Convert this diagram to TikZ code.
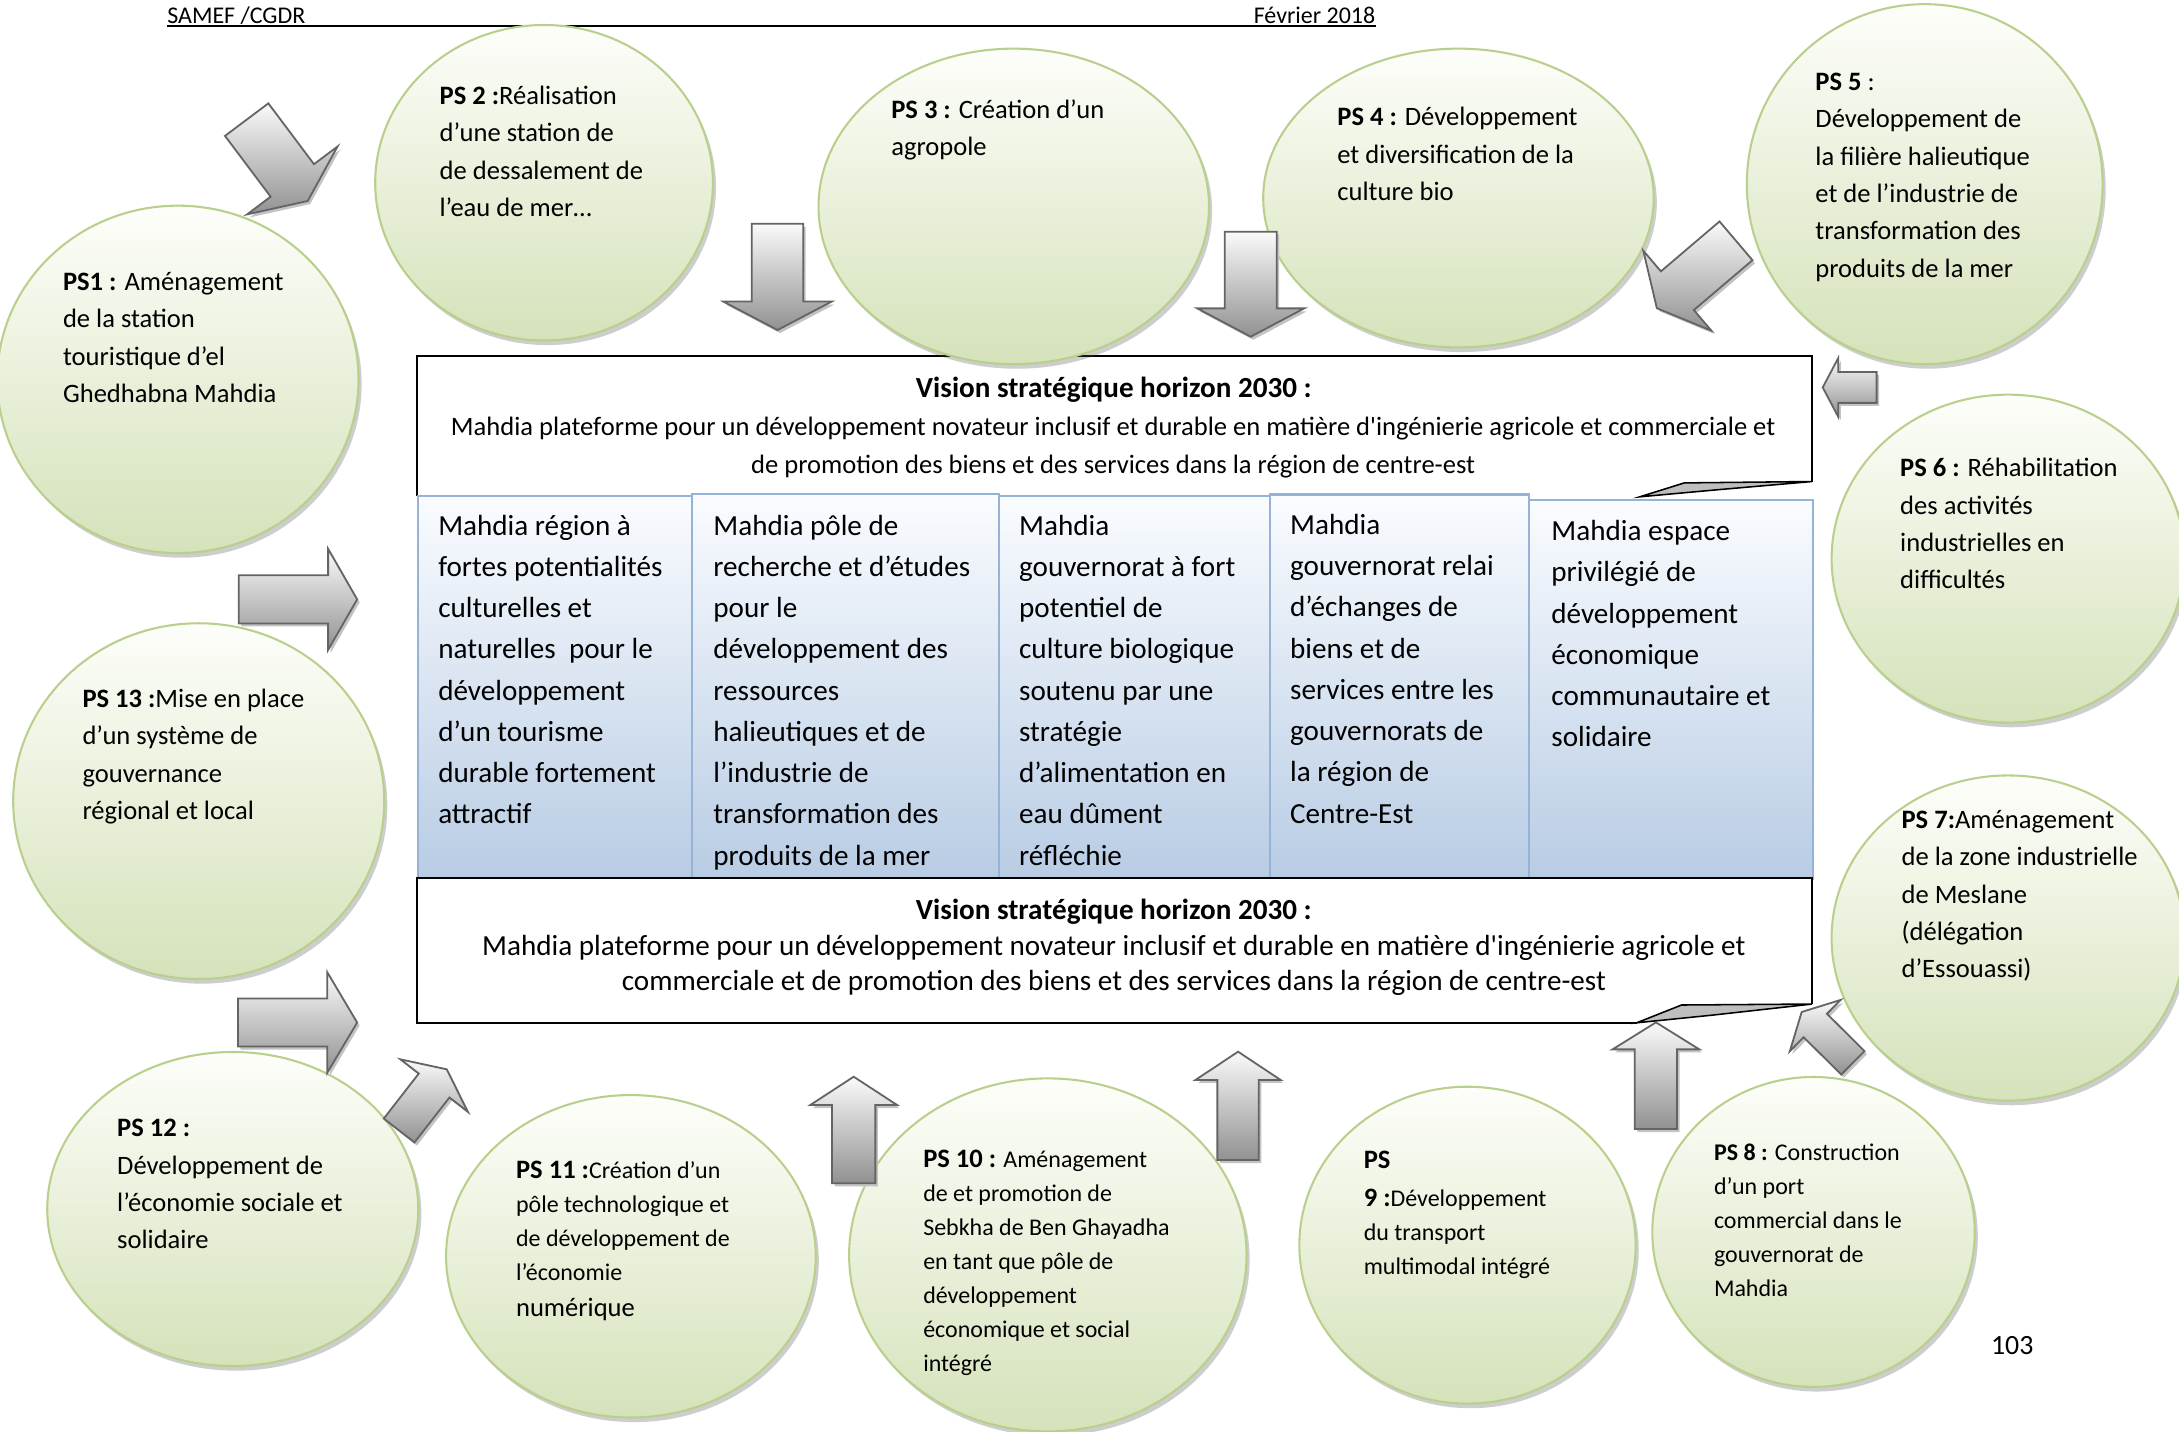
\documentclass[tikz,border=0pt]{standalone}
\usepackage{fontspec}
\setmainfont{Carlito}
\usetikzlibrary{shapes.geometric,shadows}
\definecolor{ellline}{RGB}{185,207,140}
\definecolor{elltop}{RGB}{253,254,250}
\definecolor{ellbot}{RGB}{213,226,186}
\definecolor{coltop}{RGB}{250,252,255}
\definecolor{colbot}{RGB}{184,204,228}
\definecolor{colline}{RGB}{149,179,215}
\definecolor{arrline}{RGB}{100,100,100}
\definecolor{arrtop}{RGB}{250,250,250}
\definecolor{arrbot}{RGB}{145,145,145}
\definecolor{arrshad}{RGB}{195,195,195}
\definecolor{tailgray}{RGB}{190,190,190}
\newcommand\U{0.18941mm}
\newcommand\tl[1]{\begin{tabular}[t]{@{}l@{}}#1\end{tabular}}
\newcommand\tc[1]{\begin{tabular}[t]{@{}c@{}}#1\end{tabular}}
\tikzset{
  psell/.style={ellipse, draw=ellline, line width=0.8pt, top color=elltop, bottom color=ellbot, inner sep=0pt,
    drop shadow={shadow xshift=1.2pt, shadow yshift=-1.8pt, opacity=0.28, fill=black!70}},
  ptext/.style={anchor=base west, inner sep=0pt, font=\fontsize{10.3}{14.5}\selectfont},
  psmall/.style={anchor=base west, inner sep=0pt, font=\fontsize{9.3}{13.2}\selectfont},
  coltext/.style={anchor=base west, inner sep=0pt, font=\fontsize{11.3}{16}\selectfont},
  colbox/.style={rectangle, anchor=north west, draw=colline, line width=0.8pt, top color=coltop, bottom color=colbot, inner sep=0pt},
  arrbody/.style={draw=arrline, line width=0.7pt, line join=miter, top color=arrtop, bottom color=arrbot},
  boxline/.style={draw=black, line width=0.8pt},
  visiontitle/.style={anchor=base, inner sep=0pt, font=\bfseries\fontsize{11.3}{14}\selectfont},
}
\newcommand\psell[5]{\node[psell, minimum width={2*#4*\U}, minimum height={2*#5*\U}] (#1) at (#2,#3) {};}
\newcommand\colbx[5]{\node[colbox, minimum width={(#4-#2)*\U}, minimum height={(#5-#3)*\U}] (#1) at (#2,#3) {};}
\newcommand\barrow[8]{%
  \pgfmathsetmacro\cA{cos(#4)}%
  \pgfmathsetmacro\sA{sin(#4)}%
  \foreach \n/\a/\b in {1/0/-#6,2/#5/-#6,3/#5/-#7,4/#5+#8/0,5/#5/#7,6/#5/#6,7/0/#6}{%
    \coordinate (#1-\n) at ({#2+(\a)*\cA-(\b)*\sA},{#3+(\a)*\sA+(\b)*\cA});%
  }%
  \begin{scope}[transform canvas={shift={(1.8,2.2)}}]
    \fill[arrshad] (#1-1)--(#1-2)--(#1-3)--(#1-4)--(#1-5)--(#1-6)--(#1-7)--cycle;
  \end{scope}
  \path[arrbody] (#1-1)--(#1-2)--(#1-3)--(#1-4)--(#1-5)--(#1-6)--(#1-7)--cycle;
}
\begin{document}
\begin{tikzpicture}[x=0.18941mm, y=-0.18941mm]
\useasboundingbox (0,0) rectangle (1568,1030);
\fill[white] (0,0) rectangle (1568,1030);
\clip (0,0) rectangle (1568,1030);

% header
\node[anchor=base west, inner sep=0pt, font=\fontsize{9.3}{11}\selectfont] (hl) at (120,17) {SAMEF /CGDR};
\node[anchor=base east, inner sep=0pt, font=\fontsize{9.3}{11}\selectfont] (hr) at (990,17) {Février 2018};
\draw[line width=0.9pt] ([yshift=-0.9pt]hl.base west) -- ([yshift=-0.9pt]hr.base east);

% top vision box
\node[rectangle, anchor=north west, fill=white, inner sep=0pt, minimum width={1004*\U}, minimum height={101*\U}] (vtop) at (300,256) {};
\draw[boxline] (300,357) -- (300,256) -- (1304,256) -- (1304,346.5);

% columns
\colbx{c1}{300}{356}{497.4}{631.5}
\colbx{c2}{497.4}{354.6}{718.4}{631.5}
\colbx{c3}{718.4}{356.4}{913.4}{631.5}
\colbx{c4}{913.4}{355.1}{1099.8}{631.5}
\colbx{c5}{1099.8}{359}{1304}{631.5}

% bottom vision box
\node[rectangle, anchor=north west, fill=white, inner sep=0pt, minimum width={1004*\U}, minimum height={104*\U}] (vbot) at (300,632) {};
\draw[boxline] (1177.7,736) -- (300,736) -- (300,632) -- (1304,632) -- (1304,722.5);

% tails
\filldraw[fill=tailgray, draw=black, line width=0.6pt] (1180,357.5) -- (1212,347.5) -- (1304,346.5) -- (1235,352.5) -- cycle;
\filldraw[fill=tailgray, draw=black, line width=0.6pt] (1177.7,736) -- (1210,723.2) -- (1304,722.5) -- (1233,730.4) -- cycle;

% vision texts
\node[visiontitle] (vt1) at (801.5,286) {Vision stratégique horizon 2030 :};
\node[anchor=base, inner sep=0pt, font=\fontsize{10.3}{14.5}\selectfont] (vb1) at (801,313.5)
  {\tc{Mahdia plateforme pour un développement novateur inclusif et durable en matière d\textquotesingle ingénierie agricole et commerciale et\\de promotion des biens et des services dans la région de centre-est}};
\node[visiontitle] (vt2) at (801.5,662) {Vision stratégique horizon 2030 :};
\node[anchor=base, inner sep=0pt, font=\fontsize{11.3}{13.7}\selectfont] (vb2) at (801.5,687.5)
  {\tc{Mahdia plateforme pour un développement novateur inclusif et durable en matière d\textquotesingle ingénierie agricole et\\commerciale et de promotion des biens et des services dans la région de centre-est}};

% column texts
\node[coltext] (c1t) at (315,385) {\tl{Mahdia région à\\fortes potentialités\\culturelles et\\naturelles\ \ pour le\\développement\\d’un tourisme\\durable fortement\\attractif}};
\node[coltext] (c2t) at (513,385) {\tl{Mahdia pôle de\\recherche et d’études\\pour le\\développement des\\ressources\\halieutiques et de\\l’industrie de\\transformation des\\produits de la mer}};
\node[coltext] (c3t) at (733,385) {\tl{Mahdia\\gouvernorat à fort\\potentiel de\\culture biologique\\soutenu par une\\stratégie\\d’alimentation en\\eau dûment\\réfléchie}};
\node[coltext] (c4t) at (928,384.5) {\tl{Mahdia\\gouvernorat relai\\d’échanges de\\biens et de\\services entre les\\gouvernorats de\\la région de\\Centre-Est}};
\node[coltext] (c5t) at (1116,389) {\tl{Mahdia espace\\privilégié de\\développement\\économique\\communautaire et\\solidaire}};

% ellipses
\psell{ps1}{128}{273}{130}{125}
\psell{ps2}{391.5}{131.5}{121.5}{113.5}
\psell{ps3}{729.5}{148.5}{140.5}{113.5}
\psell{ps4}{1049.5}{142.5}{140.5}{107.5}
\psell{ps5}{1385}{132.5}{128}{129.5}
\psell{ps6}{1445}{402}{127}{118}
\psell{ps7}{1445}{675}{127}{117}
\psell{ps8}{1305}{886.5}{116}{111.5}
\psell{ps9}{1056}{896}{121}{114}
\psell{ps10}{754}{903}{143}{127}
\psell{ps11}{454}{904}{133}{116}
\psell{ps12}{167.5}{870}{133.5}{113}
\psell{ps13}{143}{576.5}{133.5}{128}

% arrows
\barrow{a1}{177.5}{86.1}{53.1}{54.7}{19.5}{40.7}{18.5}
\barrow{a2}{559.5}{161}{90}{56}{18.5}{39}{20.5}
\barrow{a3}{900}{166.7}{90}{55.2}{18.7}{38.5}{20.4}
\barrow{a4}{1249.2}{173.3}{139.6}{55.4}{18.3}{37.8}{19.4}
\barrow{a5}{1350.4}{278.8}{180}{27.6}{11.1}{21.2}{11.2}
\barrow{a6}{1333.3}{764.8}{224.8}{38.1}{11.9}{26}{13.8}
\barrow{a7}{1191.6}{812.4}{270}{57.3}{15.2}{31.2}{19.4}
\barrow{a8}{890.9}{834.7}{270}{57.6}{14.9}{30.6}{20.3}
\barrow{a9}{614.3}{851.5}{270}{56.3}{15.6}{31.3}{20.4}
\barrow{a10}{287.2}{813.5}{307.9}{41}{14}{30.7}{14.8}
\barrow{a11}{171.8}{431.3}{0}{64.3}{17.3}{36.4}{20.9}
\barrow{a12}{171.2}{735.8}{0}{64.3}{17.3}{36.2}{21.5}

% ellipse texts
\node[ptext] (t1) at (45,209) {\tl{\textbf{PS1 :} Aménagement\\de la station\\touristique d’el\\Ghedhabna Mahdia}};
\node[ptext] (t2) at (316,75) {\tl{\textbf{PS 2 :}Réalisation\\d’une station de\\de dessalement de\\l’eau de mer…}};
\node[ptext] (t3) at (641,85) {\tl{\textbf{PS 3 :} Création d’un\\agropole}};
\node[ptext] (t4) at (962,90.5) {\tl{\textbf{PS 4 :} Développement\\et diversification de la\\culture bio}};
\node[ptext] (t5) at (1306,65) {\tl{\textbf{PS 5} :\\Développement de\\la filière halieutique\\et de l’industrie de\\transformation des\\produits de la mer}};
\node[ptext] (t6) at (1367,343) {\tl{\textbf{PS 6 :} Réhabilitation\\des activités\\industrielles en\\difficultés}};
\node[ptext] (t7) at (1368,596) {\tl{\textbf{PS 7:}Aménagement\\de la zone industrielle\\de Meslane\\(délégation\\d’Essouassi)}};
\node[psmall] (t8) at (1233,835) {\tl{\textbf{PS 8 :} Construction\\d’un port\\commercial dans le\\gouvernorat de\\Mahdia}};
\node[psmall] (t9) at (981,840.5) {\tl{\textbf{\fontsize{10.3}{14}\selectfont PS}\\[1.8pt]\textbf{\fontsize{10.3}{14}\selectfont 9 :}Développement\\du transport\\multimodal intégré}};
\node[psmall] (t10) at (664,840) {\tl{\textbf{\fontsize{10.3}{14}\selectfont PS 10 :} Aménagement\\de et promotion de\\Sebkha de Ben Ghayadha\\en tant que pôle de\\développement\\économique et social\\intégré}};
\node[psmall] (t11) at (371,848) {\tl{\textbf{\fontsize{10.3}{14}\selectfont PS 11 :}Création d’un\\pôle technologique et\\de développement de\\l’économie\\[0.6pt]{\fontsize{10.3}{14}\selectfont numérique}}};
\node[ptext] (t12) at (84,818) {\tl{\textbf{PS 12 :}\\Développement de\\l’économie sociale et\\solidaire}};
\node[ptext] (t13) at (59,509) {\tl{\textbf{PS 13 :}Mise en place\\d’un système de\\gouvernance\\régional et local}};

% page number
\node[anchor=base, inner sep=0pt, font=\fontsize{10.8}{13}\selectfont] (pg) at (1448,975) {103};
\end{tikzpicture}
\end{document}
